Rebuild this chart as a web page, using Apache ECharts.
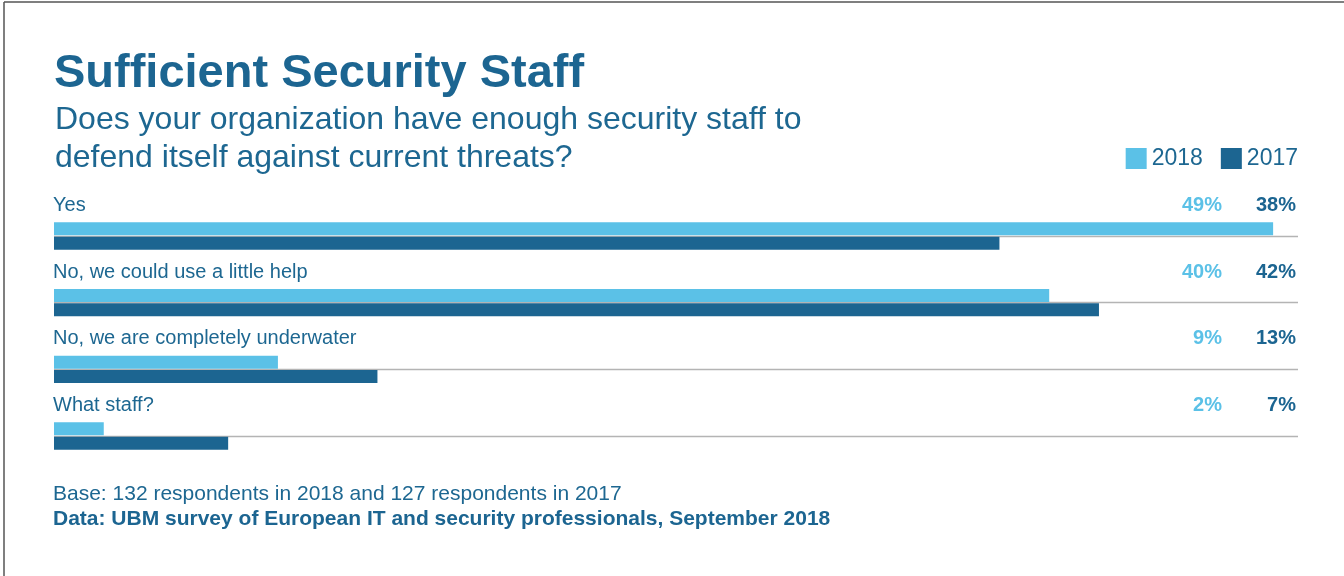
<!DOCTYPE html>
<html>
<head>
<meta charset="utf-8">
<title>Sufficient Security Staff</title>
<script src="https://cdn.jsdelivr.net/npm/echarts@6/dist/echarts.min.js"></script>
<style>
  html, body { margin: 0; padding: 0; background: #ffffff; }
  #chart { width: 1344px; height: 576px; }
</style>
</head>
<body>
<div id="chart"></div>
<script>
// Survey answers, top to bottom
const categories = [
  'Yes',
  'No, we could use a little help',
  'No, we are completely underwater',
  'What staff?'
];
const seriesNames = ['2018', '2017'];
const values2018 = [49, 40, 9, 2];
const values2017 = [38, 42, 13, 7];

const LIGHT = '#5bc1e7';
const DARK = '#1c6591';
const TEXT = '#1d6791';
const FONT = '"Liberation Sans", Arial, Helvetica, sans-serif';

// Labels sit above each pair of bars: the text box ends at the tick line
// and its line height lifts the glyphs to mid-gap.
const LABEL_LIFT = 61;

const chart = echarts.init(document.getElementById('chart'), null, { renderer: 'canvas' });

const pct = v => v + '%';

// Value-label axis on the right edge of the plot
function valueAxis(data, color, margin) {
  return {
    type: 'category',
    position: 'right',
    inverse: true,
    boundaryGap: false,
    data: data.map(pct),
    axisLine: { show: false },
    axisTick: { show: false },
    splitLine: { show: false },
    axisLabel: {
      inside: true,
      interval: 0,
      margin: margin,
      color: color,
      fontFamily: FONT,
      fontWeight: 'bold',
      fontSize: 20,
      verticalAlign: 'bottom',
      lineHeight: LABEL_LIFT
    }
  };
}

const option = {
  backgroundColor: '#ffffff',
  animation: false,
  textStyle: { fontFamily: FONT },
  title: [
    {
      text: 'Sufficient Security Staff',
      left: 49,
      top: 46,
      textStyle: { color: DARK, fontFamily: FONT, fontWeight: 'bold', fontSize: 47 }
    },
    {
      text: 'Does your organization have enough security staff to\ndefend itself against current threats?',
      left: 50,
      top: 96,
      textStyle: { color: TEXT, fontFamily: FONT, fontWeight: 'normal', fontSize: 32, lineHeight: 38 }
    },
    {
      text: 'Base: 132 respondents in 2018 and 127 respondents in 2017',
      left: 48,
      top: 479,
      textStyle: { color: TEXT, fontFamily: FONT, fontWeight: 'normal', fontSize: 21 }
    },
    {
      text: 'Data: UBM survey of European IT and security professionals, September 2018',
      left: 48,
      top: 504,
      textStyle: { color: DARK, fontFamily: FONT, fontWeight: 'bold', fontSize: 21 }
    }
  ],
  legend: {
    right: 46,
    top: 147,
    icon: 'rect',
    itemWidth: 21,
    itemHeight: 21,
    itemGap: 18,
    padding: 0,
    data: seriesNames,
    textStyle: { color: TEXT, fontFamily: FONT, fontSize: 23 }
  },
  grid: {
    left: 54,
    right: 46,
    top: 236,
    bottom: 140,
    containLabel: false
  },
  xAxis: {
    type: 'value',
    min: 0,
    max: 50,
    show: false
  },
  yAxis: [
    {
      type: 'category',
      inverse: true,
      boundaryGap: false,
      data: categories,
      axisLine: { show: false },
      axisTick: { show: false },
      splitLine: { show: true, lineStyle: { color: '#b4b4b4', width: 1.4 } },
      axisLabel: {
        inside: true,
        interval: 0,
        margin: -1,
        color: TEXT,
        fontFamily: FONT,
        fontSize: 20,
        verticalAlign: 'bottom',
        lineHeight: LABEL_LIFT
      }
    },
    valueAxis(values2018, LIGHT, 76),
    valueAxis(values2017, DARK, 2)
  ],
  series: [
    {
      name: seriesNames[0],
      type: 'bar',
      data: values2018,
      barWidth: 13,
      barGap: '10%',
      clip: false,
      itemStyle: { color: LIGHT },
      emphasis: { disabled: true }
    },
    {
      name: seriesNames[1],
      type: 'bar',
      data: values2017,
      barWidth: 13,
      barGap: '10%',
      clip: false,
      itemStyle: { color: DARK },
      emphasis: { disabled: true }
    }
  ],
  // Frame along the top and left edges
  graphic: [
    { type: 'line', shape: { x1: 4, y1: 2, x2: 1344, y2: 2 }, style: { stroke: '#555555', lineWidth: 1.5 }, silent: true },
    { type: 'line', shape: { x1: 4, y1: 2, x2: 4, y2: 576 }, style: { stroke: '#555555', lineWidth: 1.5 }, silent: true }
  ]
};

chart.setOption(option);
</script>
</body>
</html>
